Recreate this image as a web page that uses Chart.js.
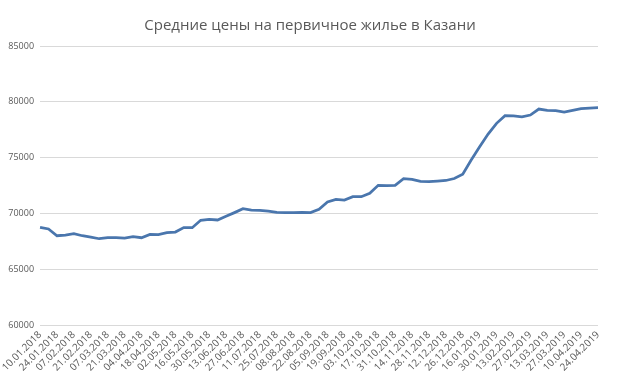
<!DOCTYPE html>
<html>
<head>
<meta charset="utf-8">
<script src="https://cdn.jsdelivr.net/npm/chart.js@4"></script>
<style>
  html, body { margin: 0; padding: 0; background: #fff; }
  #wrap { width: 620px; height: 382px; }
</style>
</head>
<body>
<div id="wrap"><canvas id="chartPrices" width="620" height="382"></canvas></div>
<script>
/* Average new-build prices in Kazan, weekly, 2018-2019 */
const TITLE = 'Средние цены на первичное жилье в Казани';

const dates = [
  '10.01.2018', '17.01.2018', '24.01.2018', '31.01.2018', '07.02.2018', '14.02.2018', '21.02.2018', '28.02.2018',
  '07.03.2018', '14.03.2018', '21.03.2018', '28.03.2018', '04.04.2018', '11.04.2018', '18.04.2018', '25.04.2018',
  '02.05.2018', '09.05.2018', '16.05.2018', '23.05.2018', '30.05.2018', '06.06.2018', '13.06.2018', '20.06.2018',
  '27.06.2018', '04.07.2018', '11.07.2018', '18.07.2018', '25.07.2018', '01.08.2018', '08.08.2018', '15.08.2018',
  '22.08.2018', '29.08.2018', '05.09.2018', '12.09.2018', '19.09.2018', '26.09.2018', '03.10.2018', '10.10.2018',
  '17.10.2018', '24.10.2018', '31.10.2018', '07.11.2018', '14.11.2018', '21.11.2018', '28.11.2018', '05.12.2018',
  '12.12.2018', '19.12.2018', '26.12.2018', '09.01.2019', '16.01.2019', '23.01.2019', '30.01.2019', '06.02.2019',
  '13.02.2019', '20.02.2019', '27.02.2019', '06.03.2019', '13.03.2019', '20.03.2019', '27.03.2019', '03.04.2019',
  '10.04.2019', '17.04.2019', '24.04.2019'
];

const prices = [
  68750, 68600, 68000, 68060, 68180, 68000, 67880, 67730, 67820, 67820,
  67790, 67910, 67820, 68120, 68100, 68270, 68330, 68730, 68720, 69380,
  69470, 69410, 69740, 70070, 70420, 70300, 70280, 70210, 70090, 70070,
  70070, 70090, 70070, 70370, 71020, 71260, 71200, 71500, 71500, 71800,
  72520, 72490, 72520, 73110, 73050, 72870, 72840, 72900, 72950, 73130,
  73520, 74780, 75970, 77110, 78070, 78750, 78730, 78660, 78810, 79350,
  79230, 79210, 79070, 79230, 79380, 79440, 79470
];

const yTicks = [60000, 65000, 70000, 75000, 80000, 85000];

const LINE = '#4a76ad';
const TEXT = '#595959';
const GRID = '#d9d9d9';

new Chart(document.getElementById('chartPrices'), {
  type: 'line',
  data: {
    labels: dates,
    datasets: [{
      label: 'Цена',
      data: prices,
      borderColor: LINE,
      borderWidth: 2.75,
      pointRadius: 0,
      tension: 0,
      fill: false,
    }],
  },
  options: {
    responsive: false,
    animation: false,
    layout: { padding: 0 },
    plugins: {
      legend: { display: false },
      tooltip: { enabled: false },
      title: {
        display: true,
        text: TITLE,
        color: TEXT,
        font: { family: "'Open Sans', sans-serif", size: 15, weight: 'normal' },
        padding: { top: 17, bottom: 11 },
      },
    },
    scales: {
      x: {
        offset: false,
        grid: { display: false, drawTicks: false },
        border: { display: false },
        ticks: {
          autoSkip: false,
          minRotation: 45,
          maxRotation: 45,
          padding: 4,
          color: TEXT,
          font: { family: "'Open Sans', sans-serif", size: 10 },
          callback: (v, i) => (i % 2 === 0 ? dates[i] : ''),
        },
        afterFit: (s) => { s.height = 57; },
      },
      y: {
        min: yTicks[0],
        max: yTicks[yTicks.length - 1],
        afterBuildTicks: (s) => { s.ticks = yTicks.map((v) => ({ value: v })); },
        grid: { color: GRID, lineWidth: 1, drawTicks: false },
        border: { display: false },
        ticks: {
          padding: 6,
          color: TEXT,
          font: { family: "'Open Sans', sans-serif", size: 9 },
          callback: (v) => String(v),
        },
        afterFit: (s) => { s.width = 40; },
      },
      // empty right-hand spacer so the title stays centred on the page
      yRight: {
        position: 'right',
        grid: { display: false, drawTicks: false },
        border: { display: false },
        ticks: { display: false },
        afterFit: (s) => { s.width = 22; },
      },
    },
  },
});
</script>
</body>
</html>
